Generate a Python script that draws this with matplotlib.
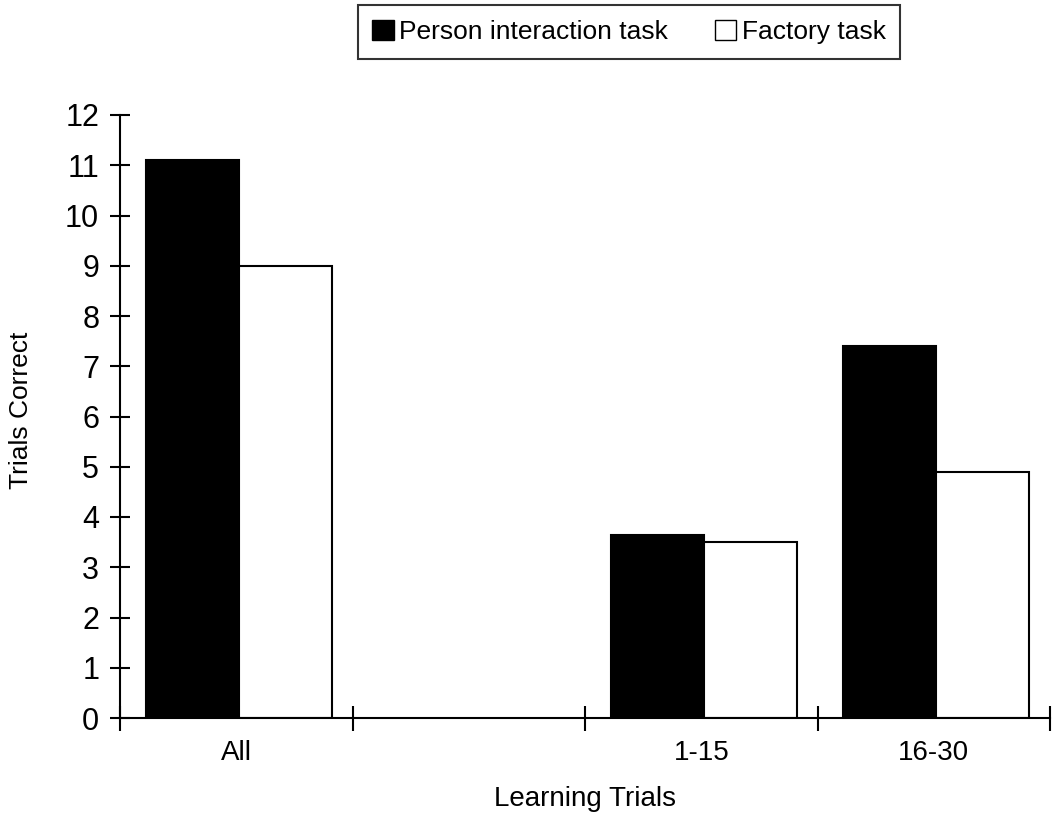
import matplotlib.pyplot as plt
from matplotlib.patches import Patch
import numpy as np

plt.rcParams['font.family'] = ['Liberation Sans', 'DejaVu Sans']

# data
categories = ['All', '', '1-15', '16-30']
person = [11.1, np.nan, 3.65, 7.4]
factory = [9.0, np.nan, 3.5, 4.9]

fig = plt.figure(figsize=(10.52, 8.16), dpi=100)
ax = fig.add_axes([120/1052, 1-718/816, 930/1052, 603/816])

x = np.arange(len(categories))
w = 0.4
ax.bar(x - w/2 + 0.01, person, w, color='black', edgecolor='black', linewidth=1.5)
ax.bar(x + w/2 + 0.01, factory, w, color='white', edgecolor='black', linewidth=1.5)

ax.set_xlim(-0.5, len(categories) - 0.5)
ax.set_ylim(0, 12)
ax.set_yticks(range(0, 13))
ax.tick_params(axis='y', direction='inout', length=14, width=1.5, labelsize=22, pad=8)
ax.set_xticks(x)
ax.set_xticklabels(categories, fontsize=20)
ax.tick_params(axis='x', which='major', length=0, pad=16)
ax.set_xticks(np.arange(-0.5, len(categories)), minor=True)
ax.tick_params(axis='x', which='minor', direction='inout', length=18, width=1.5)

for s in ['top', 'right']:
    ax.spines[s].set_visible(False)
for s in ['left', 'bottom']:
    ax.spines[s].set_linewidth(1.5)

ax.set_xlabel('Learning Trials', fontsize=20, labelpad=14)
ax.set_ylabel('Trials Correct', fontsize=19)
ax.yaxis.set_label_coords(-0.094, 0.51)

handles = [Patch(facecolor='black', edgecolor='black', label='Person interaction task'),
           Patch(facecolor='white', edgecolor='black', label='Factory task')]
leg = fig.legend(handles=handles, loc='center', bbox_to_anchor=(629/1052, 1-32/816),
                 ncol=2, fontsize=19, frameon=True, fancybox=False, edgecolor='black',
                 handlelength=0.8, handleheight=0.8, handletextpad=0.2, columnspacing=1.8,
                 borderpad=0.55, borderaxespad=0)
leg.get_frame().set_linewidth(1.5)

fig.savefig('out.png', dpi=100)
